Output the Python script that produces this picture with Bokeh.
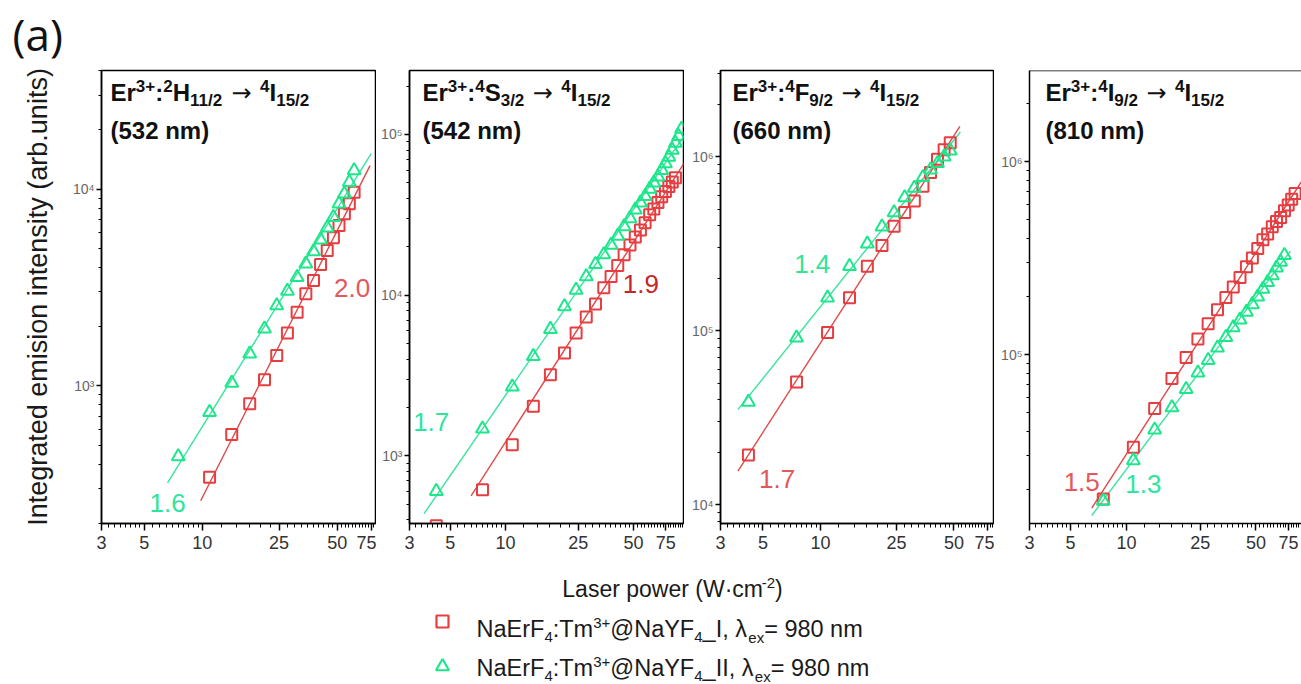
import numpy as np
from bokeh.plotting import figure
from bokeh.layouts import row, column
from bokeh.models import Range1d, FixedTicker, Label, Span
from bokeh.embed import file_html
from bokeh.resources import INLINE

# ---------------- data ----------------
# Panel 1: 532 nm
x532_I = [10.9, 14.2, 17.6, 21.0, 24.3, 27.6, 31.0, 34.4, 37.7, 41.0, 44.4, 47.8, 51.1, 54.5, 57.8, 61.2]
y532_I = [344, 567, 811, 1074, 1428, 1854, 2368, 2935, 3432, 4140, 4875, 5650, 6530, 7480, 8410, 9640]
x532_II = [7.5, 10.9, 14.2, 17.6, 21.0, 24.3, 27.6, 31.0, 34.4, 37.7, 41.0, 44.4, 47.8, 51.1, 54.5, 57.8, 61.2]
y532_II = [438, 735, 1033, 1456, 1951, 2561, 3030, 3567, 4172, 4818, 5521, 6353, 7194, 8413, 9461, 10840, 12420]

# Panel 2: 542 nm
x542_I = [4.2, 7.5, 10.9, 14.2, 17.6, 21.0, 24.3, 27.6, 31.0, 34.4, 37.7, 41.0, 44.4, 47.8, 51.1,
          54.5, 57.8, 61.2, 64.5, 67.9, 71.2, 74.6, 77.9, 81.3, 84.6]
y542_I = [368, 617, 1175, 2040, 3200, 4365, 5820, 7330, 8810, 11140, 13090, 15310, 17870, 20560, 23010,
          25470, 28250, 31620, 34430, 37760, 40930, 44160, 47530, 50700, 53700]
x542_II = [4.2, 7.5, 10.9, 14.2, 17.6, 21.0, 24.3, 27.6, 31.0, 34.4, 37.7, 41.0, 44.4, 47.8, 51.1,
           54.5, 57.8, 61.2, 64.5, 67.9, 71.2, 74.6, 77.9, 81.3, 84.6, 88.0, 91.3]
y542_II = [603, 1479, 2692, 4169, 6152, 8511, 10790, 13060, 15600, 17910, 20510, 23330, 26790, 30060, 34040,
           37580, 41210, 45810, 50120, 54580, 60000, 66000, 72500, 80000, 88500, 97500, 108000]

# Panel 3: 660 nm
x660_I = [4.2, 7.5, 10.9, 14.2, 17.6, 21.0, 24.3, 27.6, 31.0, 34.4, 37.7, 41.0, 44.4, 47.8]
y660_I = [19300, 50700, 97700, 154900, 234400, 309000, 398100, 478600, 555900, 676100, 812800, 966100,
          1096000, 1202000]
x660_II = [4.2, 7.5, 10.9, 14.2, 17.6, 21.0, 24.3, 27.6, 31.0, 34.4, 37.7, 41.0, 44.4, 47.8]
y660_II = [38900, 91200, 154900, 234400, 316200, 395400, 478600, 582100, 660700, 762100, 841400, 916200,
           1000000, 1084000]

# Panel 4: 810 nm
x810_I = [7.5, 10.9, 14.2, 17.6, 21.0, 24.3, 27.6, 31.0, 34.4, 37.7, 41.0, 44.4, 47.8, 51.1, 54.5,
          57.8, 61.2, 64.5, 67.9, 71.2, 74.6, 77.9, 81.3]
y810_I = [17800, 33100, 52500, 75000, 96600, 120200, 144500, 170600, 197700, 223900, 251200, 285100,
          316200, 354800, 393600, 421700, 459200, 489800, 512900, 555900, 595700, 638300, 683900]
x810_II = [7.5, 10.9, 14.2, 17.6, 21.0, 24.3, 27.6, 31.0, 34.4, 37.7, 41.0, 44.4, 47.8, 51.1, 54.5,
           57.8, 61.2, 64.5, 67.9, 71.2]
y810_II = [17400, 28200, 40700, 53100, 66100, 80400, 93300, 108400, 123000, 138000, 151400, 166000,
           182000, 199500, 218800, 237100, 257000, 281800, 302000, 327300]

# x extent of the power-law fit lines [start, end]
fit532_I, fit532_II = [9.8, 74.0], [6.6, 75.0]
fit542_I, fit542_II = [6.5, 95.0], [3.6, 95.0]
fit660_I, fit660_II = [3.7, 53.7], [3.7, 54.0]
fit810_I, fit810_II = [6.5, 95.0], [6.5, 76.6]

# slope annotations
slopes532 = [("1.6", 6.6, 253, "g"), ("2.0", 59.7, 3160, "r")]
slopes542 = [("1.7", 3.94, 1615, "g"), ("1.9", 54.8, 11720, "rd")]
slopes660 = [("1.4", 9.06, 242000, "g"), ("1.7", 5.94, 14130, "r")]
slopes810 = [("1.5", 5.74, 21800, "r"), ("1.3", 12.35, 21400, "g")]

X_TICKS = [3, 5, 10, 25, 50, 75]
Y_LABELS = {100: "10²", 1000: "10³", 10000: "10⁴", 100000: "10⁵", 1000000: "10⁶", 10000000: "10⁷"}

# ---------------- style ----------------
RED = "#e63e40"
GREEN = "#1de68b"
RED_LINE = "#e04848"
GREEN_LINE = "#3ae3a0"
TXT_COL = {"g": "#2fe49b", "r": "#e2585c", "rd": "#c4262c"}
FONT = "Liberation Sans"
MID = 0.36  # offset from alphabetic baseline to the "middle" anchor, in em

W_REG = {' ': 278, '(': 333, ')': 333, '+': 584, ',': 278, '-': 333, '.': 278, '/': 278, ':': 278,
         '=': 584, '@': 1015, '_': 556, '·': 278, 'λ': 556, 'E': 667, 'F': 611, 'I': 278,
         'L': 556, 'N': 722, 'T': 611, 'W': 944, 'Y': 667, 'a': 556, 'c': 500, 'e': 556, 'm': 833,
         'n': 556, 'o': 556, 'p': 556, 'r': 333, 's': 500, 'w': 722, 'x': 500}
W_BOLD = {' ': 278, '(': 333, ')': 333, '+': 584, '/': 278, ':': 333, 'E': 667, 'F': 611,
          'H': 722, 'I': 278, 'S': 667, 'm': 889, 'n': 611, 'r': 389}
ARROW_GAP = 37


def text_width(s, size, bold=False):
    table = W_BOLD if bold else W_REG
    return sum(table.get(ch, 556) for ch in s) / 1000.0 * size


def seg_width(segs, size, bold, ratio):
    small = round(size * ratio)
    w = 0
    for txt, kind in segs:
        if kind in ("sup", "sub"):
            w += text_width(txt, small, bold)
        elif kind == "arrow":
            w += ARROW_GAP
        else:
            w += text_width(txt, size, bold)
    return w


def put(p, x, y, txt, fs, bold, color, units, font=FONT, align="left"):
    p.add_layout(Label(x=x, y=y + MID * fs, x_units=units, y_units=units, text=txt,
                       text_font=font, text_font_size=f"{fs}px",
                       text_font_style="bold" if bold else "normal", text_color=color,
                       text_baseline="middle", text_align=align))


def rich(p, x, y, segs, size, bold, color, units="screen", ratio=0.64):
    """y is the alphabetic baseline of the main text."""
    small = round(size * ratio)
    cx = x
    for txt, kind in segs:
        if kind == "sup":
            put(p, cx, y + size * 0.40, txt, small, bold, color, units)
            cx += text_width(txt, small, bold)
        elif kind == "sub":
            put(p, cx, y - size * 0.22, txt, small, bold, color, units)
            cx += text_width(txt, small, bold)
        elif kind == "arrow":
            put(p, cx + ARROW_GAP / 2, y - 0.02 * size, txt, size, False, color, units,
                font="DejaVu Sans", align="center")
            cx += ARROW_GAP
        else:
            put(p, cx, y, txt, size, bold, color, units)
            cx += text_width(txt, size, bold)
    return cx


def x_minor_ticks():
    m = []
    m += [3 + 0.25 * i for i in range(1, 8)]
    m += [5 + 0.5 * i for i in range(1, 10)]
    m += [10 + 2.5 * i for i in range(1, 6)]
    m += [25 + 2.5 * i for i in range(1, 10)]
    m += [50 + 2.5 * i for i in range(1, 10)]
    m += [75 + 2.5 * i for i in range(1, 8)]
    return m


def y_minor_ticks():
    return [k * 10 ** e for e in range(2, 7) for k in range(2, 10)]


FRAME_BOTTOM = 523  # canvas y of the frame bottom


def make_panel(width, left, right, xr, yr, series, slopes, title_segs, title_nm, title_dx,
               ylabel=None, outline=True):
    p = figure(width=width, height=495, x_axis_type="log", y_axis_type="log",
               x_range=Range1d(*xr), y_range=Range1d(*yr), toolbar_location=None,
               output_backend="svg", title=None,
               min_border_left=left, min_border_right=right, min_border_top=5, min_border_bottom=37)
    p.grid.visible = False
    p.background_fill_color = "white"
    p.border_fill_color = "white"
    if outline:
        p.outline_line_color = "black"
        p.outline_line_width = 1.5
    else:
        p.outline_line_color = None
        p.add_layout(Span(location=yr[1], dimension="width", line_color="black", line_width=1.5))

    xa = p.xaxis[0]
    xa.ticker = FixedTicker(ticks=X_TICKS, minor_ticks=x_minor_ticks())
    xa.major_label_overrides = {t: str(t) for t in X_TICKS}
    xa.major_label_text_font = FONT
    xa.major_label_text_font_size = "18px"
    xa.major_label_text_color = "#333333"
    xa.major_label_standoff = 5
    xa.major_tick_out, xa.major_tick_in = 7, 0
    xa.minor_tick_out, xa.minor_tick_in = 4, 0
    xa.axis_line_width = 1.5
    xa.major_tick_line_width = 1.5
    xa.minor_tick_line_width = 1

    ya = p.yaxis[0]
    ya.ticker = FixedTicker(ticks=list(Y_LABELS.keys()), minor_ticks=y_minor_ticks())
    ya.major_label_overrides = dict(Y_LABELS)
    ya.major_label_text_font = FONT
    ya.major_label_text_font_size = "14px"
    ya.major_label_text_color = "#666666"
    ya.major_label_standoff = 2
    ya.major_tick_out, ya.major_tick_in = 5, 0
    ya.minor_tick_out, ya.minor_tick_in = 3, 0
    ya.axis_line_width = 1.5
    ya.major_tick_line_width = 1.5
    ya.minor_tick_line_width = 1
    if ylabel:
        ya.axis_label = ylabel
        ya.axis_label_text_font = FONT
        ya.axis_label_text_font_size = "27px"
        ya.axis_label_text_font_style = "normal"
        ya.axis_label_text_color = "#1a1a1a"
        ya.axis_label_standoff = 17

    for xs, ys, marker, color, size, ext, lcol in series:
        k, b = np.polyfit(np.log10(xs), np.log10(ys), 1)
        fx = np.array(ext, dtype=float)
        fy = 10 ** (b + k * np.log10(fx))
        p.line(fx, fy, line_color=lcol, line_width=1.4)
    for xs, ys, marker, color, size, ext, lcol in series:
        p.scatter(xs, ys, marker=marker, size=size, fill_color=None, line_color=color, line_width=2)

    for txt, sx, sy, c in slopes:
        p.add_layout(Label(x=sx, y=sy, text=txt, text_font=FONT, text_font_size="26px",
                           text_color=TXT_COL[c], text_align="center", text_baseline="middle"))

    rich(p, title_dx, FRAME_BOTTOM - 101, title_segs, 24, True, "#111111", ratio=0.72)
    rich(p, title_dx, FRAME_BOTTOM - 139, [(title_nm, "n")], 24, True, "#111111", ratio=0.72)
    return p


def title_for(level, sub):
    return [("Er", "n"), ("3+", "sup"), (":", "n"), (level[0], "sup"), (level[1], "n"), (sub, "sub"),
            ("→", "arrow"), ("4", "sup"), ("I", "n"), ("15/2", "sub")]


p1 = make_panel(376, 101, 1, (3, 79), (200, 40000),
                [(x532_I, y532_I, "square", RED, 11, fit532_I, RED_LINE),
                 (x532_II, y532_II, "triangle", GREEN, 13, fit532_II, GREEN_LINE)],
                slopes532, title_for(("2", "H"), "11/2"), "(532 nm)", 9,
                ylabel="Integrated emision intensity (arb.units)")
p2 = make_panel(308, 33, 1, (3, 93.6), (380, 250000),
                [(x542_I, y542_I, "square", RED, 11, fit542_I, RED_LINE),
                 (x542_II, y542_II, "triangle", GREEN, 13, fit542_II, GREEN_LINE)],
                slopes542, title_for(("4", "S"), "3/2"), "(542 nm)", 13)
p3 = make_panel(310, 36, 1, (3, 80.5), (7800, 3.13e6),
                [(x660_I, y660_I, "square", RED, 11, fit660_I, RED_LINE),
                 (x660_II, y660_II, "triangle", GREEN, 13, fit660_II, GREEN_LINE)],
                slopes660, title_for(("4", "F"), "9/2"), "(660 nm)", 12)
p4 = make_panel(307, 35, 0, (3, 88), (13300, 2.97e6),
                [(x810_I, y810_I, "square", RED, 11, fit810_I, RED_LINE),
                 (x810_II, y810_II, "triangle", GREEN, 13, fit810_II, GREEN_LINE)],
                slopes810, title_for(("4", "I"), "9/2"), "(810 nm)", 16, outline=False)


def strip(height):
    s = figure(width=1301, height=height, x_range=Range1d(0, 1301), y_range=Range1d(0, height),
               toolbar_location=None, output_backend="svg", title=None, min_border=0,
               x_axis_location=None, y_axis_location=None)
    s.grid.visible = False
    s.outline_line_color = None
    s.background_fill_color = "white"
    s.border_fill_color = "white"
    return s


top = strip(65)
put(top, 12, 65 - 49, "(a)", 44, False, "#111111", "data", font="Open Sans")

bot = strip(124)
H = 684  # canvas y of the bottom of the strip
xl_segs = [("Laser power (W·cm", "n"), ("-2", "sup"), (")", "n")]
wxl = seg_width(xl_segs, 23, False, 0.64)
rich(bot, 672 - wxl / 2, H - 597, xl_segs, 23, False, "#1a1a1a", units="data")

legend_labels = ["_I", "_II"]
legend_markers = ["square", "triangle"]
legend_colors = [RED, GREEN]
legend_baselines = [637, 676]
legend_centers = [621, 666]
for suffix, mk, col, base, cy in zip(legend_labels, legend_markers, legend_colors,
                                     legend_baselines, legend_centers):
    bot.scatter([442], [H - cy], marker=mk, size=12 if mk == "square" else 13, fill_color=None,
                line_color=col, line_width=2.2)
    segs = [("NaErF", "n"), ("4", "sub"), (":Tm", "n"), ("3+", "sup"), ("@NaYF", "n"), ("4", "sub"),
            (suffix + ", λ", "n"), ("ex", "sub"), ("= 980 nm", "n")]
    rich(bot, 476, H - base, segs, 23.5, False, "#1a1a1a", units="data")

layout = column(top, row(p1, p2, p3, p4), bot)
open("out.html", "w").write(file_html(layout, INLINE))
